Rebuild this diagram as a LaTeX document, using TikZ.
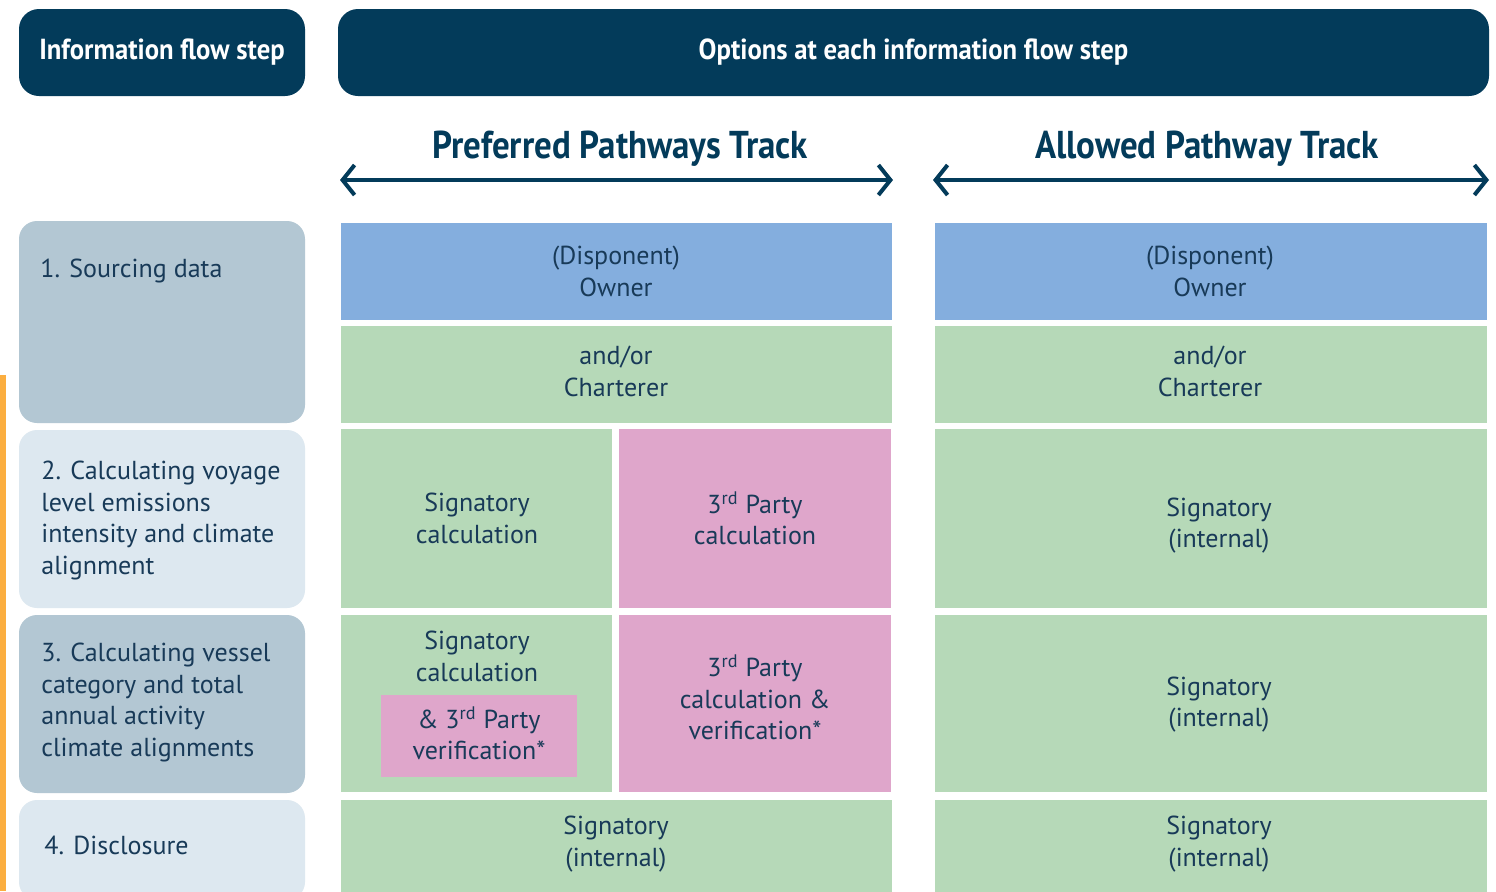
\documentclass[tikz,border=0pt]{standalone}
\usepackage{fontspec}
\setmainfont{PT Sans}
\setsansfont{PT Sans}
\newfontfamily\hdfont[FakeStretch=0.92]{PT Sans}
\newfontfamily\trfont[FakeStretch=0.9]{PT Sans}
\usetikzlibrary{arrows.meta}
\definecolor{navy}{HTML}{033B5A}
\definecolor{txt}{HTML}{183A58}
\definecolor{cblue}{HTML}{84AEDE}
\definecolor{cgreen}{HTML}{B6D9B8}
\definecolor{cpink}{HTML}{DFA6CB}
\definecolor{sdark}{HTML}{B3C7D3}
\definecolor{slight}{HTML}{DDE8F0}
\definecolor{orng}{HTML}{FBAE40}
\tikzset{
  hdr/.style={fill=navy, rounded corners=10pt, inner sep=0pt, text=white, font=\hdfont\bfseries\fontsize{14.5}{16}\selectfont},
  stepbox/.style={rounded corners=9pt, inner sep=0pt, minimum width=143pt},
  cell/.style={inner sep=0pt},
  ctext/.style={text=txt, align=center, font=\fontsize{13}{15.75}\selectfont, inner sep=0pt},
  ltext/.style={text=txt, align=left, anchor=west, font=\fontsize{13}{15.75}\selectfont, inner sep=0pt},
  track/.style={text=navy, font=\trfont\bfseries\fontsize{19.4}{22}\selectfont, inner sep=0pt},
  tarrow/.style={draw=navy, line width=2pt, {Straight Barb[length=6pt,width=15pt]}-{Straight Barb[length=6pt,width=15pt]}}
}
\begin{document}
\begin{tikzpicture}[x=0.5pt,y=-0.5pt]
\useasboundingbox (0,0) rectangle (1496,891);
\fill[white] (0,0) rectangle (1496,891);
% orange edge
\fill[orng] (0,375) rectangle (6,891);
% headers
\node[hdr, minimum width=143pt, minimum height=43.5pt] (h1) at (162,52.5) {Information flow step};
\node[hdr, minimum width=575.5pt, minimum height=43.5pt] (h2) at (913.5,52.5) {Options at each information flow step};
% track titles
\node[track] (t1) at (620,149) {Preferred Pathways Track};
\node[track] (t2) at (1207,149) {Allowed Pathway Track};
\coordinate (a1l) at (340,180); \coordinate (a1r) at (893,180);
\coordinate (a2l) at (933,180); \coordinate (a2r) at (1489,180);
\draw[tarrow] (a1l) -- (a1r);
\draw[tarrow] (a2l) -- (a2r);
% left step boxes
\node[stepbox, fill=sdark, minimum height=101pt] (s1) at (162,322) {};
\node[stepbox, fill=slight, minimum height=89pt] (s2) at (162,519) {};
\node[stepbox, fill=sdark, minimum height=89pt] (s3) at (162,704) {};
\node[stepbox, fill=slight, minimum height=50pt] (s4) at (162,850) {};
\node[ltext] (s1t) at (40,271) {1. Sourcing data};
\node[ltext] (s2t) at (41,520.5) {2. Calculating voyage\\level emissions\\intensity and climate\\alignment};
\node[ltext] (s3t) at (41,702.5) {3. Calculating vessel\\category and total\\annual activity\\climate alignments};
\node[ltext] (s4t) at (44,845) {4. Disclosure};
% preferred track cells
\node[cell, fill=cblue, minimum width=275.5pt, minimum height=48.5pt] (p1) at (616.5,271.5) {};
\node[cell, fill=cgreen, minimum width=275.5pt, minimum height=48.5pt] (p2) at (616.5,374.5) {};
\node[cell, fill=cgreen, minimum width=135.5pt, minimum height=89.5pt] (p3l) at (476.5,518.5) {};
\node[cell, fill=cpink, minimum width=136pt, minimum height=89.5pt] (p3r) at (755,518.5) {};
\node[cell, fill=cgreen, minimum width=135.5pt, minimum height=88.5pt] (p4l) at (476.5,703.5) {};
\node[cell, fill=cpink, minimum width=98pt, minimum height=41pt] (p4i) at (479,736) {};
\node[cell, fill=cpink, minimum width=136pt, minimum height=88.5pt] (p4r) at (755,703.5) {};
\node[cell, fill=cgreen, minimum width=275.5pt, minimum height=50pt] (p5) at (616.5,850) {};
\node[ctext] (p1t) at (616,271.5) {(Disponent)\\Owner};
\node[ctext] (p2t) at (616,371.5) {and/or\\Charterer};
\node[ctext] (p3lt) at (477,518.5) {Signatory\\calculation};
\node[ctext] (p3rt) at (755,518.5) {3\textsuperscript{rd} Party\\calculation};
\node[ctext] (p4lt) at (477,656.5) {Signatory\\calculation};
\node[ctext] (p4it) at (479,733.5) {\& 3\textsuperscript{rd} Party\\verification*};
\node[ctext] (p4rt) at (755,697.5) {3\textsuperscript{rd} Party\\calculation \&\\verification*};
\node[ctext] (p5t) at (616,844) {Signatory\\(internal)};
% allowed track cells
\node[cell, fill=cblue, minimum width=276pt, minimum height=48.5pt] (q1) at (1211,271.5) {};
\node[cell, fill=cgreen, minimum width=276pt, minimum height=48.5pt] (q2) at (1211,374.5) {};
\node[cell, fill=cgreen, minimum width=276pt, minimum height=89.5pt] (q3) at (1211,518.5) {};
\node[cell, fill=cgreen, minimum width=276pt, minimum height=88.5pt] (q4) at (1211,703.5) {};
\node[cell, fill=cgreen, minimum width=276pt, minimum height=50pt] (q5) at (1211,850) {};
\node[ctext] (q1t) at (1210,271.5) {(Disponent)\\Owner};
\node[ctext] (q2t) at (1210,371.5) {and/or\\Charterer};
\node[ctext] (q3t) at (1219,525.5) {Signatory\\(internal)};
\node[ctext] (q4t) at (1219,704.5) {Signatory\\(internal)};
\node[ctext] (q5t) at (1219,844) {Signatory\\(internal)};
\end{tikzpicture}
\end{document}
